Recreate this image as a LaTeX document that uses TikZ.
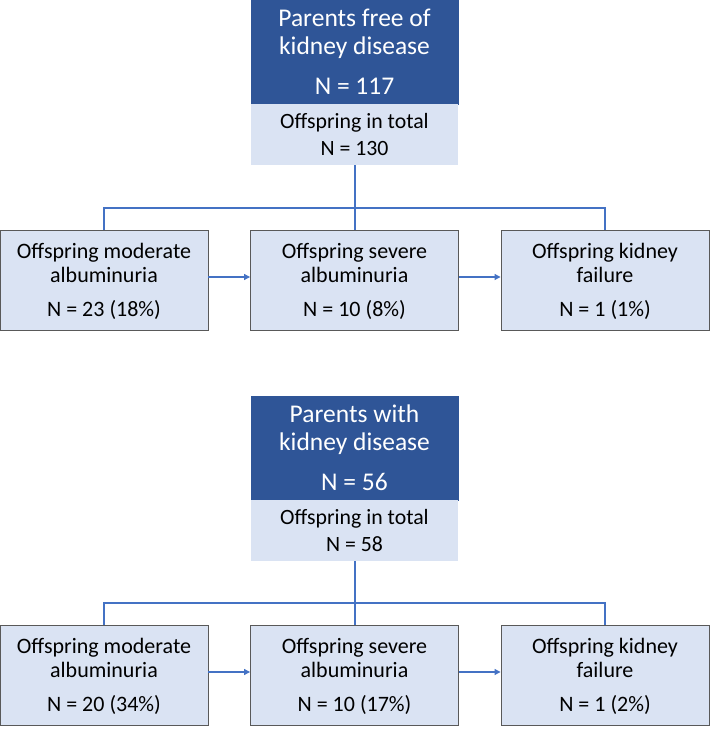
\documentclass[tikz,border=0pt]{standalone}
\usepackage{fontspec}
\setmainfont{Carlito}
\usetikzlibrary{arrows.meta}
\definecolor{darkblue}{HTML}{2F5597}
\definecolor{lightblue}{HTML}{DAE3F3}
\definecolor{linkblue}{HTML}{4472C4}
\definecolor{boxgray}{HTML}{595959}
\tikzset{
  parentbox/.style={fill=darkblue, draw=darkblue, text=white, minimum width=207pt, minimum height=104pt, inner sep=0pt, align=center, font=\fontsize{25.5}{28}\selectfont},
  totalbox/.style={fill=lightblue, minimum width=207pt, minimum height=61pt, inner sep=0pt, align=center, font=\fontsize{21.8}{27}\selectfont},
  outbox/.style={fill=lightblue, draw=boxgray, line width=0.9pt, minimum width=208pt, minimum height=100pt, inner sep=0pt, align=center, text depth=0pt, font=\fontsize{22}{23.5}\selectfont},
  link/.style={draw=linkblue, line width=1.1pt},
  arr/.style={link, -{Triangle[length=6pt,width=6pt]}}
}
\begin{document}
\begin{tikzpicture}[x=1pt,y=1pt]
\useasboundingbox (0,0) rectangle (710,732);
% first group
\node[parentbox] (p1) at (354.5,680) {Parents free of\\kidney disease\\[12pt]N = 117};
\node[totalbox] (t1) at (354.5,597.5) {Offspring in total\\N = 130};
\node[outbox] (a1) at (104,452) {Offspring moderate\\albuminuria\\[11pt]N = 23 (18\%)};
\node[outbox] (b1) at (354.5,452) {Offspring severe\\albuminuria\\[11pt]N = 10 (8\%)};
\node[outbox] (c1) at (605,452) {Offspring kidney\\failure\\[11pt]N = 1 (1\%)};
\coordinate (j1) at (355,524);
\draw[link] (t1.south -| j1) -- (j1);
\draw[link] (a1.north) |- (j1) -| (c1.north);
\draw[link] (j1) -- (b1.north -| j1);
\draw[arr] ([yshift=3pt]a1.east) -- ([yshift=3pt]b1.west);
\draw[arr] ([yshift=3pt]b1.east) -- ([yshift=3pt]c1.west);
% second group
\node[parentbox] (p2) at (354.5,284) {Parents with\\kidney disease\\[12pt]N = 56};
\node[totalbox] (t2) at (354.5,201.5) {Offspring in total\\N = 58};
\node[outbox] (a2) at (104,57) {Offspring moderate\\albuminuria\\[11pt]N = 20 (34\%)};
\node[outbox] (b2) at (354.5,57) {Offspring severe\\albuminuria\\[11pt]N = 10 (17\%)};
\node[outbox] (c2) at (605,57) {Offspring kidney\\failure\\[11pt]N = 1 (2\%)};
\coordinate (j2) at (355,129);
\draw[link] (t2.south -| j2) -- (j2);
\draw[link] (a2.north) |- (j2) -| (c2.north);
\draw[link] (j2) -- (b2.north -| j2);
\draw[arr] ([yshift=3pt]a2.east) -- ([yshift=3pt]b2.west);
\draw[arr] ([yshift=3pt]b2.east) -- ([yshift=3pt]c2.west);
\end{tikzpicture}
\end{document}
